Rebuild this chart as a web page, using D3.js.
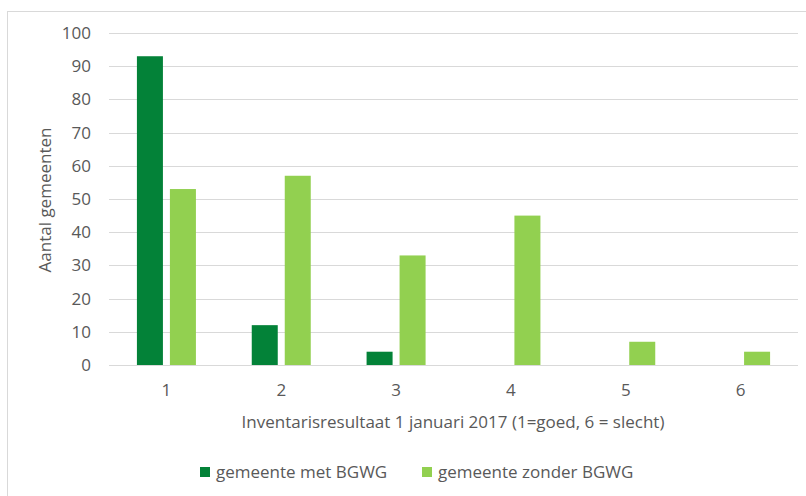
<!DOCTYPE html>
<html>
<head>
<meta charset="utf-8">
<script src="https://cdn.jsdelivr.net/npm/d3@7"></script>
<style>
  body { margin: 0; background: #fff; }
  text { font-family: "Open Sans", "Liberation Sans", sans-serif; fill: #595959; }
</style>
</head>
<body>
<div class="chart"></div>
<script>
const categories = ['1', '2', '3', '4', '5', '6']
const seriesNames = ['gemeente met BGWG', 'gemeente zonder BGWG']
const metBGWG = [93, 12, 4, 0, 0, 0]
const zonderBGWG = [53, 57, 33, 45, 7, 4]
const yTicks = [0, 10, 20, 30, 40, 50, 60, 70, 80, 90, 100]
const colors = ['#038238', '#92d050']

const width = 806
const height = 496
const plot = { left: 109, right: 798, top: 33, bottom: 365 }
const fontSize = '17px'

var svg = d3.select('.chart')
  .append('svg')
  .attr('width', width)
  .attr('height', height)

// chart frame
svg.append('rect')
  .attr('x', 7.5).attr('y', 11.5)
  .attr('width', 820).attr('height', 500)
  .attr('fill', 'none')
  .attr('stroke', '#d9d9d9')

var xScale = d3.scaleBand()
  .domain(categories)
  .range([plot.left, plot.right])

var yScale = d3.scaleLinear()
  .domain([0, 100])
  .range([plot.bottom, plot.top])

// gridlines
svg.selectAll('line.grid')
  .data(yTicks)
  .enter()
  .append('line')
  .attr('class', 'grid')
  .attr('x1', plot.left)
  .attr('x2', plot.right)
  .attr('y1', d => Math.round(yScale(d)) + 0.5)
  .attr('y2', d => Math.round(yScale(d)) + 0.5)
  .attr('stroke', '#d9d9d9')
  .attr('stroke-width', 1)

// y tick labels
svg.selectAll('text.ytick')
  .data(yTicks)
  .enter()
  .append('text')
  .attr('class', 'ytick')
  .attr('x', 91)
  .attr('y', d => yScale(d))
  .attr('dy', '0.35em')
  .attr('text-anchor', 'end')
  .style('font-size', fontSize)
  .text(d => d)

// bars
const barW = 26
const gap = 7
var dataset = []
categories.forEach((c, i) => {
  dataset.push({ cat: c, s: 0, v: metBGWG[i] })
  dataset.push({ cat: c, s: 1, v: zonderBGWG[i] })
})

svg.selectAll('rect.bar')
  .data(dataset.filter(d => d.v > 0))
  .enter()
  .append('rect')
  .attr('class', 'bar')
  .attr('x', d => {
    const center = xScale(d.cat) + xScale.bandwidth() / 2
    return d.s == 0 ? center - gap / 2 - barW : center + gap / 2
  })
  .attr('y', d => yScale(d.v))
  .attr('width', barW)
  .attr('height', d => yScale(0) - yScale(d.v))
  .attr('fill', d => colors[d.s])

// x tick labels
svg.selectAll('text.xtick')
  .data(categories)
  .enter()
  .append('text')
  .attr('class', 'xtick')
  .attr('x', d => xScale(d) + xScale.bandwidth() / 2)
  .attr('y', 396)
  .attr('text-anchor', 'middle')
  .style('font-size', fontSize)
  .text(d => d)

// axis titles
svg.append('text')
  .attr('x', 453)
  .attr('y', 428)
  .attr('text-anchor', 'middle')
  .style('font-size', fontSize)
  .text('Inventarisresultaat 1 januari 2017 (1=goed, 6 = slecht)')

svg.append('text')
  .attr('transform', 'translate(51,200) rotate(-90)')
  .attr('text-anchor', 'middle')
  .style('font-size', fontSize)
  .text('Aantal gemeenten')

// legend
const legendX = [200, 422]
seriesNames.forEach((name, i) => {
  svg.append('rect')
    .attr('x', legendX[i])
    .attr('y', 467)
    .attr('width', 10)
    .attr('height', 10)
    .attr('fill', colors[i])
  svg.append('text')
    .attr('x', legendX[i] + 16)
    .attr('y', 478)
    .style('font-size', fontSize)
    .text(name)
})
</script>
</body>
</html>
